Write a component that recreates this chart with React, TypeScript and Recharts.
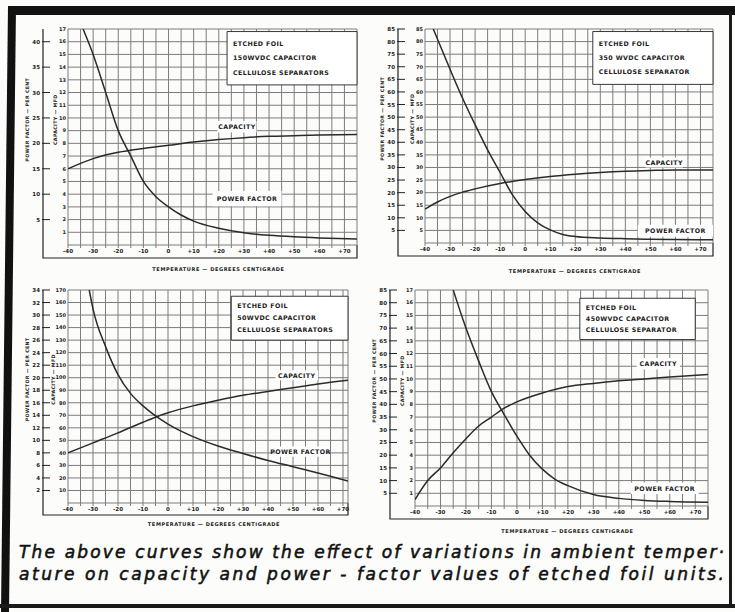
import React from 'react';
import { LineChart, Line, XAxis, YAxis, CartesianGrid, ReferenceArea, Label } from 'recharts';

const INK = '#222';
const GRID = '#7c7c7c';
const CURVE = '#2b2b2b';
const FONT = '"DejaVu Sans", sans-serif';

// 150 WVDC unit (top left)
const capTemps1 = [-40, -30, -20, -10, 0, 10, 20, 30, 40, 50, 60, 75];
const cap1 = [6.0, 6.8, 7.3, 7.6, 7.85, 8.1, 8.3, 8.45, 8.55, 8.6, 8.65, 8.7];
const pfTemps1 = [-34, -30, -25, -20, -15, -10, -5, 0, 5, 10, 20, 30, 40, 50, 60, 75];
const pf1 = [42.5, 37.5, 30, 22.5, 17.5, 12.5, 9.5, 7.5, 5.9, 4.7, 3.3, 2.4, 1.9, 1.6, 1.4, 1.2];

// 350 WVDC unit (top right)
const capTemps2 = [-40, -35, -30, -25, -20, -10, 0, 10, 20, 30, 40, 50, 60, 75];
const cap2 = [13.5, 16.3, 18.5, 20.2, 21.5, 23.6, 25.2, 26.4, 27.3, 28, 28.5, 28.8, 29, 29];
const pfTemps2 = [-36.7, -30, -25, -20, -15, -10, -5, 0, 5, 10, 15, 20, 30, 40, 50, 60, 75];
const pf2 = [85, 69, 57.5, 47, 37, 28, 19, 12.5, 8, 5.2, 3.4, 2.6, 2, 1.7, 1.5, 1.4, 1.3];

// 50 WVDC unit (bottom left)
const capTemps3 = [-40, -30, -20, -10, -5, 0, 10, 20, 30, 40, 50, 60, 72];
const cap3 = [40, 48, 56, 64.5, 68.5, 72, 77.5, 82, 86, 89, 92, 95, 98];
const pfTemps3 = [-31.5, -30, -25, -20, -15, -10, -5, 0, 10, 20, 30, 40, 50, 60, 72];
const pf3 = [34, 31, 25, 20.5, 17.5, 15.5, 13.9, 12.6, 10.6, 9.1, 7.9, 6.8, 5.8, 4.8, 3.5];

// 450 WVDC unit (bottom right)
const capTemps4 = [-40, -35, -30, -25, -20, -15, -10, -5, 0, 10, 20, 30, 40, 50, 60, 75];
const cap4 = [0.5, 2.0, 3.0, 4.2, 5.3, 6.3, 7.0, 7.7, 8.2, 8.9, 9.4, 9.65, 9.85, 10.0, 10.15, 10.35];
const pfTemps4 = [-25, -20, -15, -10, -5, 0, 5, 10, 15, 20, 30, 40, 50, 60, 75];
const pf4 = [85, 70, 57, 45, 36, 27.5, 20, 14.5, 10.5, 8, 4.5, 3, 2.2, 1.8, 1.5];

const titles = [
  ['ETCHED FOIL', '150WVDC CAPACITOR', 'CELLULOSE SEPARATORS'],
  ['ETCHED FOIL', '350 WVDC CAPACITOR', 'CELLULOSE SEPARATOR'],
  ['ETCHED FOIL', '50WVDC CAPACITOR', 'CELLULOSE SEPARATORS'],
  ['ETCHED FOIL', '450WVDC CAPACITOR', 'CELLULOSE SEPARATOR'],
];

const captionLines = [
  'The above curves show the effect of variations in ambient temper\u00b7',
  'ature on capacity and power - factor values of etched foil units.',
];

const range = (a: number, b: number, s: number) => {
  const out: number[] = [];
  for (let v = a; v <= b + 1e-9; v += s) out.push(Math.round(v * 100) / 100);
  return out;
};

const fmtTemp = (v: number) => (v % 10 !== 0 ? '' : v > 0 ? `+${v}` : `${v}`);

function PfTick(props: any) {
  const { x, y, payload } = props;
  return (
    <g>
      <line x1={x - 1} y1={y} x2={x + 7} y2={y} stroke={INK} strokeWidth={1} />
      <text x={x - 3} y={y} dy={2} textAnchor="end" fontSize={5.5} fontWeight="bold" fill={INK}>
        {payload.value}
      </text>
    </g>
  );
}

function YTitle({ viewBox, text, inset }: any) {
  if (!viewBox) return null;
  const x = viewBox.x + viewBox.width - inset;
  const y = viewBox.y + viewBox.height * 0.42;
  return (
    <text x={x} y={y} transform={`rotate(-90 ${x} ${y})`} textAnchor="middle" dominantBaseline="central"
      fontSize={4.8} fontWeight="bold" fill={INK} letterSpacing={0.3}>
      {text}
    </text>
  );
}

function XTitle({ viewBox }: any) {
  if (!viewBox) return null;
  return (
    <text x={viewBox.x + viewBox.width / 2 + 6} y={viewBox.y + viewBox.height - 6} textAnchor="middle"
      dominantBaseline="central" fontSize={5} fontWeight="bold" fill={INK} letterSpacing={0.6}>
      TEMPERATURE — DEGREES CENTIGRADE
    </text>
  );
}

function TitleText({ viewBox, lines }: any) {
  if (!viewBox) return null;
  const { x, y, height } = viewBox;
  return (
    <g>
      {lines.map((l: string, i: number) => (
        <text key={i} x={x + 6} y={y + height * (0.22 + 0.27 * i)} dominantBaseline="central"
          fontSize={6.3} fontWeight="bold" fill={INK} letterSpacing={0.4}>
          {l}
        </text>
      ))}
    </g>
  );
}

function CenterText({ viewBox, text }: any) {
  if (!viewBox) return null;
  const { x, y, width, height } = viewBox;
  return (
    <text x={x + width / 2} y={y + height / 2} textAnchor="middle" dominantBaseline="central"
      fontSize={6.3} fontWeight="bold" fill={INK} letterSpacing={0.4}>
      {text}
    </text>
  );
}

type Box = [number, number, number, number];

interface PanelProps {
  axisX: number; plotL: number; plotR: number; plotT: number; plotB: number; titleY: number;
  xMax: number; capMax: number; capStep: number; pfMax: number; pfStep: number; capInset: number;
  capTemps: number[]; capVals: number[]; pfTemps: number[]; pfVals: number[];
  title: string[]; titleBox: Box; capBox: Box; pfBox: Box;
}

const PF_W = 30;

function Panel(p: PanelProps) {
  const left = p.axisX - PF_W - 6;
  const top = p.plotT - 6;
  const width = p.plotR + 4 - left;
  const height = p.titleY + 6 - top;
  const capData = p.capTemps.map((t, i) => ({ t, v: p.capVals[i] }));
  const pfData = p.pfTemps.map((t, i) => ({ t, v: p.pfVals[i] }));
  const gridX = range(-40, 70, 5).concat(p.xMax > 70 ? [p.xMax] : []);
  const gridY = range(0, p.capMax, p.capStep);
  const area = (b: Box) => ({ x1: b[0], x2: b[1], y1: b[2], y2: b[3] });

  return (
    <div style={{ position: 'absolute', left, top }}>
      <LineChart width={width} height={height} margin={{ top: p.plotT - top, right: 4, left: 6, bottom: 0 }}>
        <CartesianGrid yAxisId="cap" horizontalValues={gridY} verticalValues={gridX} stroke={GRID} strokeWidth={1} />
        <XAxis dataKey="t" type="number" domain={[-40, p.xMax]} allowDataOverflow ticks={range(-40, 70, 5)}
          interval={0} tickFormatter={fmtTemp} height={p.titleY + 6 - p.plotB} axisLine={false}
          tickLine={{ stroke: GRID }} tickSize={3} tickMargin={1}
          tick={{ fontSize: 5.5, fontWeight: 'bold', fill: INK }}>
          <Label content={<XTitle />} />
        </XAxis>
        <YAxis yAxisId="cap" type="number" domain={[0, p.capMax]} allowDataOverflow
          ticks={range(p.capStep, p.capMax, p.capStep)} interval={0} width={p.plotL - p.axisX}
          axisLine={false} tickLine={false} tickSize={0} tickMargin={2}
          tick={{ fontSize: 5, fontWeight: 'bold', fill: INK }}>
          <Label content={<YTitle text="CAPACITY — MFD" inset={p.capInset} />} />
        </YAxis>
        <YAxis yAxisId="pf" type="number" domain={[0, p.pfMax]} allowDataOverflow
          ticks={range(p.pfStep, p.pfMax, p.pfStep)} interval={0} width={PF_W}
          axisLine={false} tickLine={false} tickSize={0} tickMargin={0} tick={<PfTick />}>
          <Label content={<YTitle text="POWER FACTOR — PER CENT" inset={15} />} />
        </YAxis>
        <ReferenceArea yAxisId="cap" {...area(p.titleBox)} fill="#fff" fillOpacity={1} stroke={INK} strokeWidth={0.9}
          label={<TitleText lines={p.title} />} />
        <ReferenceArea yAxisId="cap" {...area(p.capBox)} fill="#fff" fillOpacity={1} stroke="none"
          label={<CenterText text="CAPACITY" />} />
        <ReferenceArea yAxisId="cap" {...area(p.pfBox)} fill="#fff" fillOpacity={1} stroke="none"
          label={<CenterText text="POWER FACTOR" />} />
        <Line yAxisId="cap" data={capData} dataKey="v" type="monotone" stroke={CURVE} strokeWidth={1.5}
          dot={false} isAnimationActive={false} />
        <Line yAxisId="pf" data={pfData} dataKey="v" type="monotone" stroke={CURVE} strokeWidth={1.5}
          dot={false} isAnimationActive={false} />
      </LineChart>
    </div>
  );
}

const panels: PanelProps[] = [
  {
    axisX: 43, plotL: 68, plotR: 357, plotT: 29, plotB: 245, titleY: 269, capInset: 12,
    xMax: 75, capMax: 17, capStep: 1, pfMax: 42.5, pfStep: 5,
    capTemps: capTemps1, capVals: cap1, pfTemps: pfTemps1, pfVals: pf1, title: titles[0],
    titleBox: [23.3, 75, 12.6, 16.8], capBox: [19.5, 35, 8.85, 9.75], pfBox: [17.5, 45, 3.05, 4.25],
  },
  {
    axisX: 398, plotL: 425, plotR: 713, plotT: 29, plotB: 243, titleY: 271, capInset: 12,
    xMax: 75, capMax: 85, capStep: 5, pfMax: 85, pfStep: 5,
    capTemps: capTemps2, capVals: cap2, pfTemps: pfTemps2, pfVals: pf2, title: titles[1],
    titleBox: [27, 75, 63, 84], capBox: [48, 63, 30, 34], pfBox: [45, 75, 2.5, 7.2],
  },
  {
    axisX: 43, plotL: 68, plotR: 348, plotT: 290, plotB: 503, titleY: 524, capInset: 14.5,
    xMax: 72, capMax: 170, capStep: 10, pfMax: 34, pfStep: 2,
    capTemps: capTemps3, capVals: cap3, pfTemps: pfTemps3, pfVals: pf3, title: titles[2],
    titleBox: [25.3, 72, 130, 165], capBox: [43, 60, 98, 106], pfBox: [43, 63, 37, 45],
  },
  {
    axisX: 390, plotL: 415, plotR: 708, plotT: 290, plotB: 506, titleY: 531, capInset: 12,
    xMax: 75, capMax: 17, capStep: 1, pfMax: 85, pfStep: 5,
    capTemps: capTemps4, capVals: cap4, pfTemps: pfTemps4, pfVals: pf4, title: titles[3],
    titleBox: [24.7, 70, 13.1, 16.35], capBox: [47, 64, 10.75, 11.65], pfBox: [44.7, 71.3, 0.94, 1.84],
  },
];

// bottom of the box that holds the temperature labels under each grid
const boxBottoms = [258, 256, 515, 519];

export default function App() {
  return (
    <div style={{ position: 'absolute', left: 0, top: 0, width: 735, height: 612, background: '#fcfcfa', fontFamily: FONT, overflow: 'hidden' }}>
      <svg width={735} height={612} style={{ position: 'absolute', left: 0, top: 0 }}>
        <rect x={8} y={6} width={727} height={9} fill="#111" />
        <polygon points="8,6 16,6 9,612 1,612" fill="#111" />
        <rect x={729} y={12} width={3} height={596} fill="#1a1a1a" />
        <rect x={0} y={604} width={735} height={4} fill="#1a1a1a" />
        {panels.map((p, i) => (
          <polyline key={i}
            points={`${p.axisX},${p.plotT} ${p.axisX},${boxBottoms[i]} ${p.plotR},${boxBottoms[i]} ${p.plotR},${p.plotB}`}
            fill="none" stroke={INK} strokeWidth={1.2} />
        ))}
        {captionLines.map((l, i) => (
          <text key={i} x={19} y={558 + i * 22} textLength={705} lengthAdjust="spacing" fontSize={17}
            fontStyle="italic" fontWeight="normal" fill="#111" stroke="#111" strokeWidth={0.55} fontFamily={FONT}>
            {l}
          </text>
        ))}
      </svg>
      {panels.map((p, i) => (
        <Panel key={i} {...p} />
      ))}
    </div>
  );
}
